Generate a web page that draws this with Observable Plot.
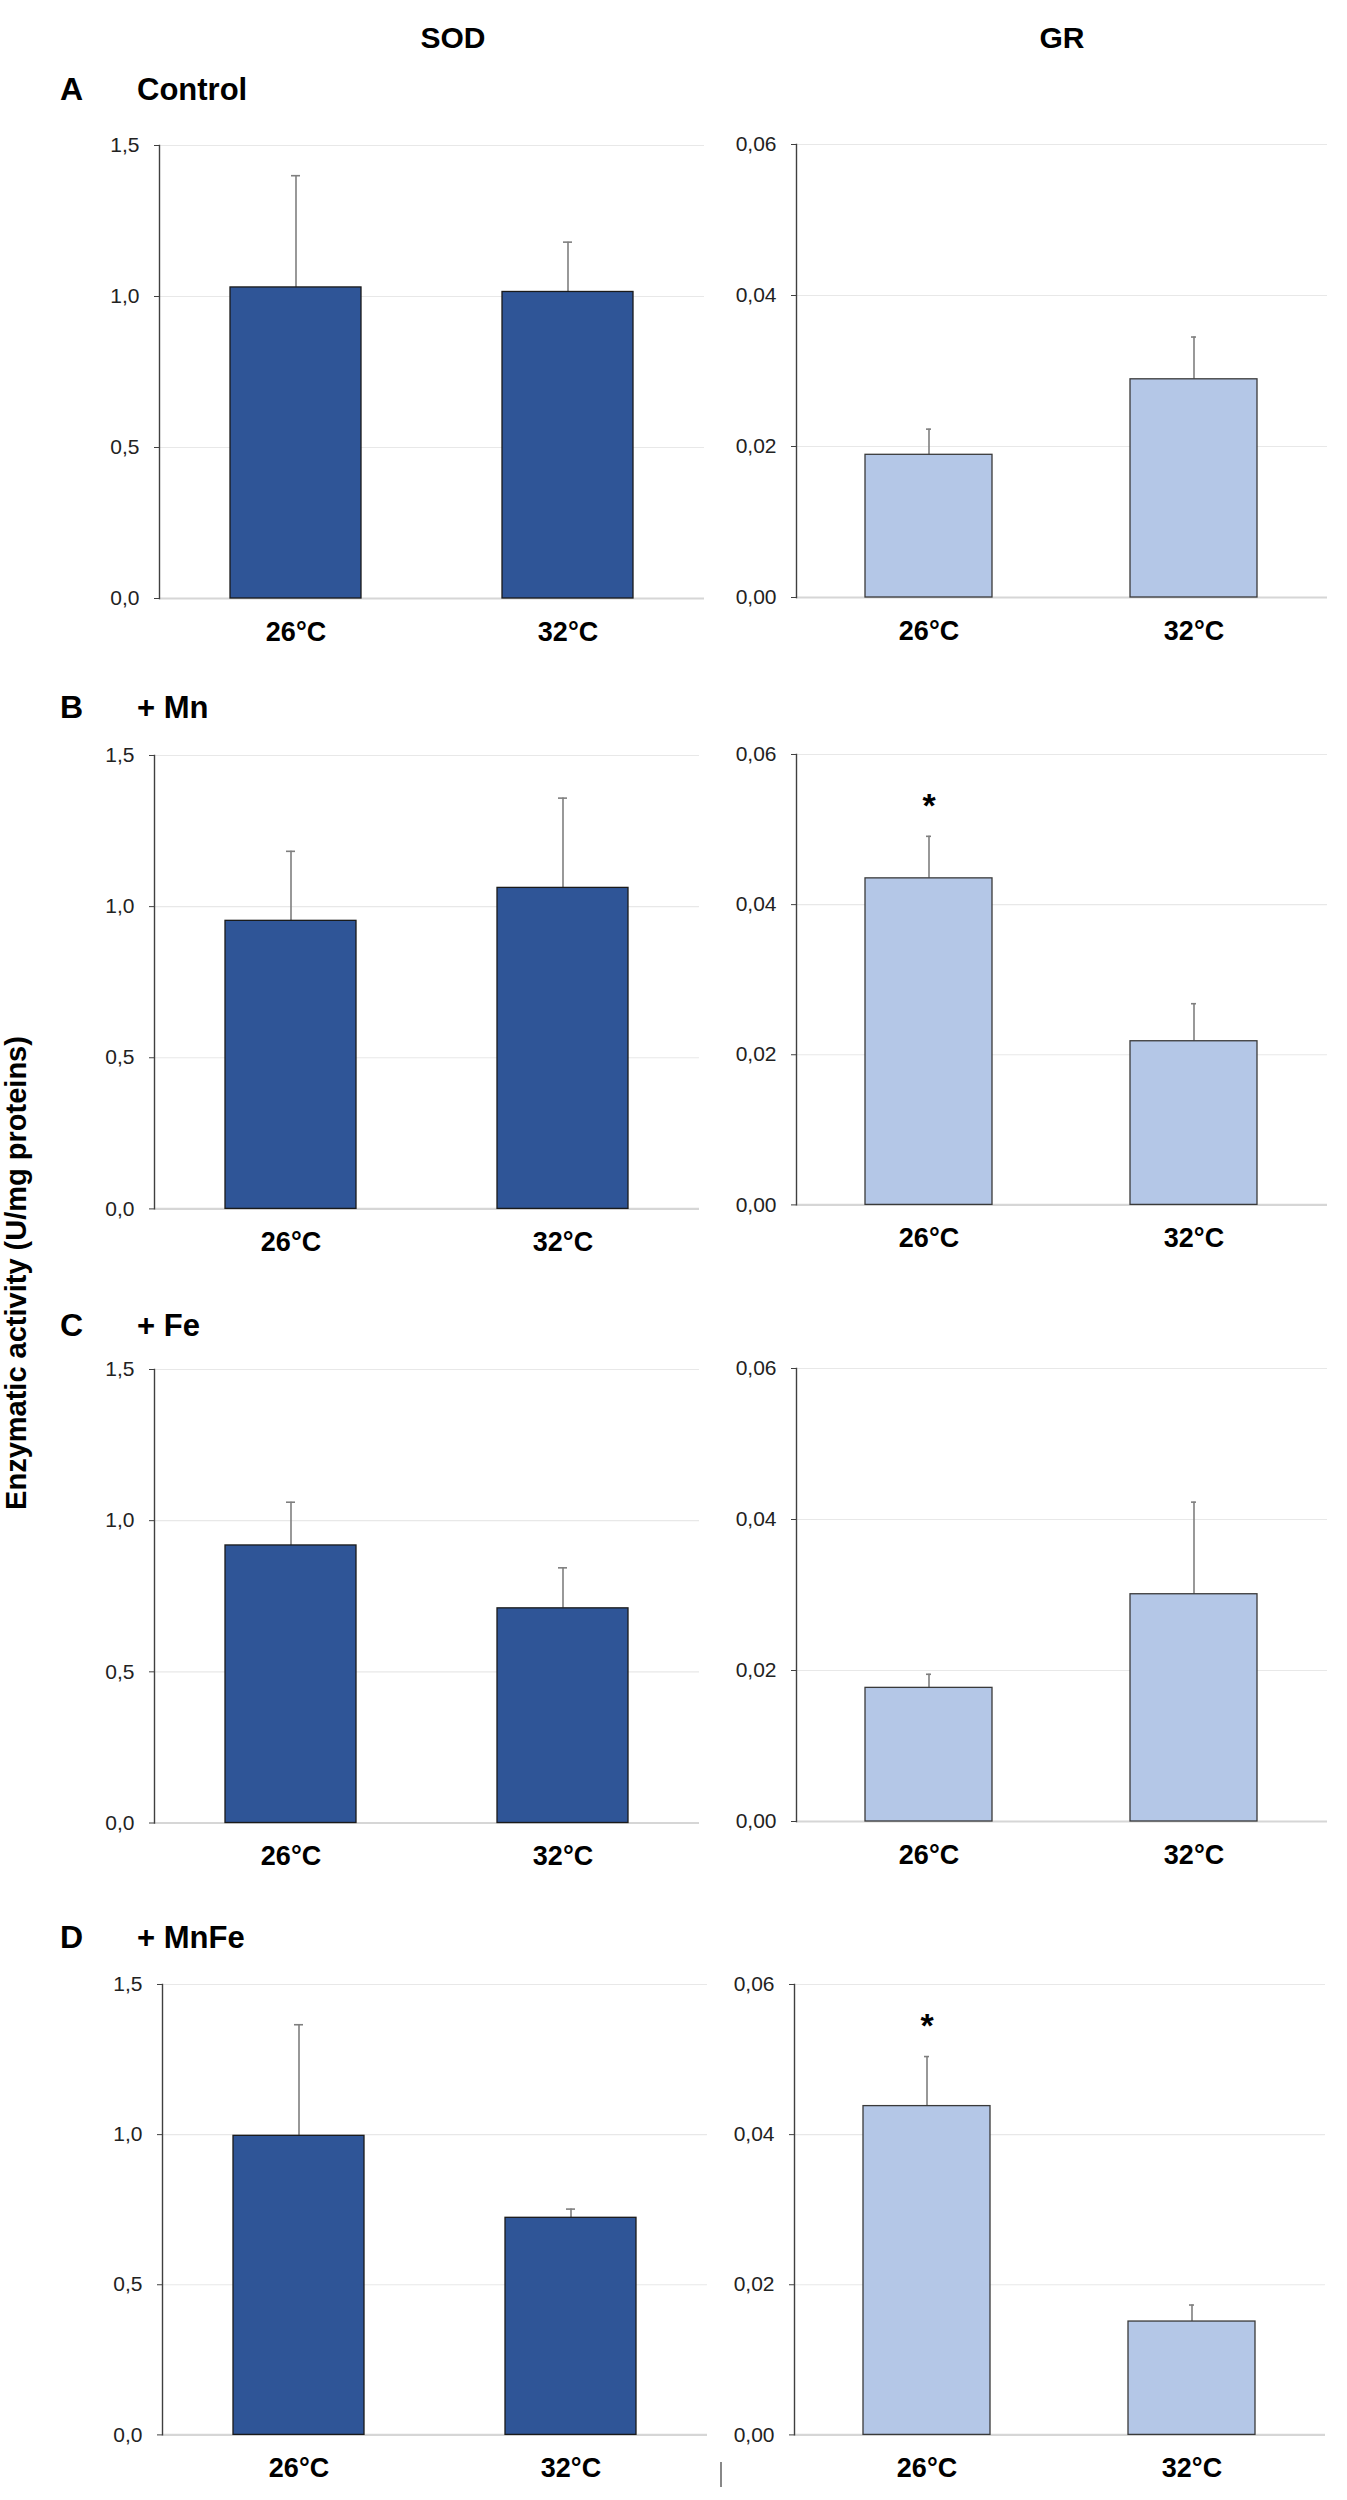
<!DOCTYPE html>
<html>
<head>
<meta charset="utf-8">
<script src="https://cdn.jsdelivr.net/npm/d3@7"></script>
<script src="https://cdn.jsdelivr.net/npm/@observablehq/plot@0.6"></script>
<style>
  html, body { margin: 0; padding: 0; background: #fff; }
  #fig { position: relative; width: 1347px; height: 2500px; background: #fff; overflow: hidden;
         font-family: "Liberation Sans", Arial, Helvetica, sans-serif; color: #000; }
  .lbl { position: absolute; line-height: 1; white-space: nowrap; font-weight: bold; transform: translateY(-50%); }
  .hdr { position: absolute; line-height: 1; white-space: nowrap; font-weight: bold; font-size: 30px; transform: translate(-50%, -50%); }
  .ylab { position: absolute; line-height: 1.1; white-space: nowrap; font-weight: bold; font-size: 29px;
          transform: translate(-50%, -50%) rotate(-90deg); }
  .panel { position: absolute; }
</style>
</head>
<body>
<div id="fig"></div>
<script>
// ---------- data ----------
const temps = ["26°C", "32°C"];
const columns = ["SOD", "GR"];
const panelLetters = ["A", "B", "C", "D"];
const conditions = ["Control", "+ Mn", "+ Fe", "+ MnFe"];

const sodMean = [[1.03, 1.015], [0.953, 1.062], [0.918, 0.710], [0.996, 0.723]];
const sodErr  = [[0.37, 0.165], [0.23, 0.297], [0.143, 0.134], [0.37, 0.029]];
const grMean  = [[0.0189, 0.0289], [0.0435, 0.0218], [0.0177, 0.0301], [0.0438, 0.0151]];
const grErr   = [[0.0034, 0.0056], [0.0056, 0.0050], [0.0018, 0.0122], [0.0066, 0.0022]];
const grSig   = [[false, false], [true, false], [false, false], [true, false]];
const sodSig  = [[false, false], [false, false], [false, false], [false, false]];

const sodTicks = [0, 0.5, 1.0, 1.5];
const grTicks  = [0, 0.02, 0.04, 0.06];
const yLabel = "Enzymatic activity (U/mg proteins)";

// ---------- layout (pixel geometry of each sub-plot frame) ----------
const layout = {
  SOD: { left: [159, 154, 154, 161.6], top: [145, 754.6, 1368.5, 1984.2], h: [453, 453.4, 453.5, 450.4], w: 545,
         fill: "#2F5597", stroke: "#1a1a1a", ticks: sodTicks, fmt: d => d.toFixed(1).replace(".", ",") },
  GR:  { left: [796, 796, 796, 794], top: [144, 753.9, 1367.7, 1983.8], h: [453, 450.4, 453, 450.4], w: 531,
         fill: "#B4C7E7", stroke: "#3a3a3a", ticks: grTicks, fmt: d => d.toFixed(2).replace(".", ",") }
};
const rowLabelY = [88.5, 707, 1325, 1937];
const M = { left: 90, right: 12, top: 60, bottom: 70 };

const fig = document.getElementById("fig");
function addDiv(cls, text, css) {
  const el = document.createElement("div");
  el.className = cls;
  el.textContent = text;
  Object.assign(el.style, css);
  fig.appendChild(el);
  return el;
}

// column headers
addDiv("hdr", columns[0], { left: "453px", top: "38px" });
addDiv("hdr", columns[1], { left: "1062px", top: "38px" });
// y label
addDiv("ylab", yLabel, { left: "17px", top: "1273px" });

function panel(col, r) {
  const L = layout[col];
  const means = col === "SOD" ? sodMean[r] : grMean[r];
  const errs  = col === "SOD" ? sodErr[r]  : grErr[r];
  const sig   = col === "SOD" ? sodSig[r]  : grSig[r];
  const data = temps.map((t, i) => ({ temp: t, mean: means[i], err: errs[i], sig: sig[i] }));
  const ymax = L.ticks[L.ticks.length - 1];
  const h = L.h[r];
  const plot = Plot.plot({
    width: M.left + L.w + M.right,
    height: M.top + h + M.bottom,
    marginLeft: M.left, marginRight: M.right, marginTop: M.top, marginBottom: M.bottom,
    style: { fontFamily: "'Liberation Sans', Arial, Helvetica, sans-serif", background: "transparent", overflow: "visible", color: "#000" },
    x: { domain: temps, paddingInner: 0.52, paddingOuter: 0.26, label: null },
    y: { domain: [0, ymax], label: null },
    marks: [
      Plot.gridY(L.ticks.slice(1), { stroke: "#e8e8e8", strokeOpacity: 1, strokeWidth: 1.2 }),
      Plot.ruleY([0], { stroke: "#d6d6d6", strokeWidth: 2.2 }),
      Plot.ruleX(data, { x: "temp", y1: "mean", y2: d => d.mean + d.err, stroke: "#7f7f7f", strokeWidth: 1.6 }),
      Plot.tickY(data, { x: "temp", y: d => d.mean + d.err, stroke: "#7f7f7f", strokeWidth: 1.6, insetLeft: 61, insetRight: 61 }),
      Plot.barY(data, { x: "temp", y: "mean", fill: L.fill, stroke: L.stroke, strokeWidth: 1.3 }),
      Plot.frame({ anchor: "left", stroke: "#404040", strokeWidth: 1.4 }),
      Plot.axisY({ ticks: L.ticks, tickFormat: L.fmt, tickSize: 5, tickPadding: 15, fontSize: 21,
                   stroke: "#404040", fill: "#222", label: null }),
      Plot.axisX({ tickSize: 0, tickPadding: 23, fontSize: 27, fontWeight: "bold", fill: "#000", label: null }),
      Plot.text(data.filter(d => d.sig), { x: "temp", y: d => d.mean + d.err, text: () => "*",
                   dy: -30, fontSize: 34, fontWeight: "bold", fill: "#000" })
    ]
  });
  plot.classList.add("panel");
  plot.style.left = (L.left[r] - M.left) + "px";
  plot.style.top = (L.top[r] - M.top) + "px";
  plot.style.position = "absolute";
  fig.appendChild(plot);
}

panelLetters.forEach((p, r) => {
  addDiv("lbl", p, { left: "60px", top: rowLabelY[r] + "px", fontSize: "32px" });
  addDiv("lbl", conditions[r], { left: "137px", top: rowLabelY[r] + "px", fontSize: "31px" });
  columns.forEach(c => panel(c, r));
});

// small stray mark present at the bottom of the original figure
const mark = document.createElement("div");
Object.assign(mark.style, { position: "absolute", left: "720px", top: "2462px", width: "1.5px", height: "25px", background: "#888" });
fig.appendChild(mark);
</script>
</body>
</html>
